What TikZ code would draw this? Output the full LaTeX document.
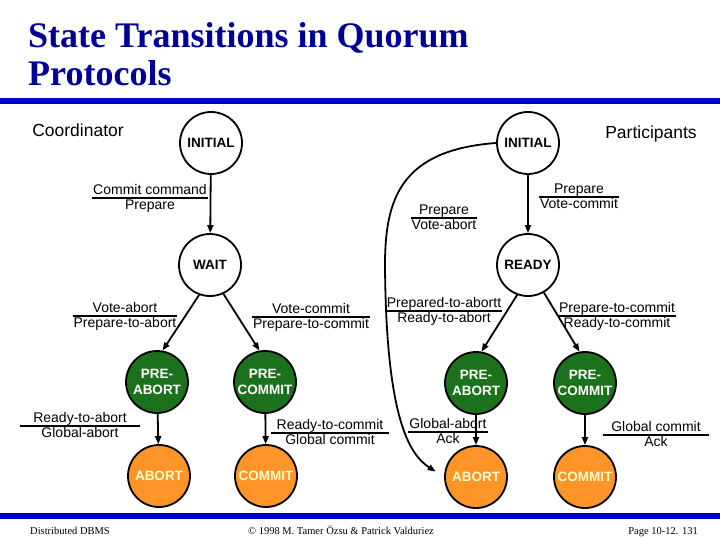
\documentclass[tikz,border=0pt]{standalone}
\usepackage{fontspec}
\setmainfont{Liberation Sans}
\newfontfamily\titlefont{Liberation Serif}
\usetikzlibrary{arrows.meta}
\definecolor{titleblue}{HTML}{000099}
\definecolor{rulepop}{HTML}{0000CC}
\definecolor{greenpop}{HTML}{1C721C}
\definecolor{orangepop}{HTML}{FF9429}
\definecolor{creampop}{HTML}{FFFFCC}
\setlength{\arrayrulewidth}{1.5pt}
\newcommand{\trans}[3][1pt]{\begin{tabular}{@{\hspace{#1}}c@{\hspace{#1}}}#2\\[-2pt]\hline #3\end{tabular}}

\begin{document}
\begin{tikzpicture}[x=1pt,y=-1pt,
  state/.style={circle, draw, line width=1.8pt, minimum size=62pt, inner sep=0pt, align=center, font=\fontsize{13.5}{16}\selectfont\bfseries},
  pre/.style={state, fill=greenpop, text=white},
  final/.style={state, fill=orangepop, text=creampop},
  lbl/.style={font=\fontsize{14}{16}\selectfont, inner sep=0pt},
  head/.style={font=\fontsize{17.5}{20}\selectfont, inner sep=0pt},
  titletext/.style={font=\titlefont\fontsize{36}{38}\selectfont\bfseries, text=titleblue, anchor=base west, inner sep=0pt},
  foot/.style={font=\titlefont\fontsize{10.5}{13}\selectfont, inner sep=0pt},
  arr/.style={line width=1.8pt, -{Triangle[length=8pt,width=6pt]}}]
\useasboundingbox (0,0) rectangle (720,540);
\fill[rulepop] (0,98) rectangle (720,104);
\fill[rulepop] (0,513) rectangle (720,519);
\node[titletext] (title) at (28,48) {State Transitions in Quorum};
\node[titletext] (title2) at (28,86) {Protocols};
\node[head] (coord) at (78,130) {Coordinator};
\node[head] (part) at (651,134) {Participants};

\node[state] (ci) at (211,143) {INITIAL};
\node[state] (cw) at (210,265) {WAIT};
\node[pre] (cpa) at (157,382) {PRE-\\ABORT};
\node[pre] (cpc) at (265,382) {PRE-\\COMMIT};
\node[final] (ca) at (159,476) {ABORT};
\node[final] (cc) at (266,476) {COMMIT};
\node[state] (pi) at (528,143) {INITIAL};
\node[state] (pr) at (528,265) {READY};
\node[pre] (ppa) at (476,383) {PRE-\\ABORT};
\node[pre] (ppc) at (585,383) {PRE-\\COMMIT};
\node[final] (pa) at (476,477) {ABORT};
\node[final] (pc) at (585,477) {COMMIT};

\draw[arr] (ci) -- (cw);
\draw[arr] (cw.250) -- (cpa.80);
\draw[arr] (cw.295) -- (cpc.100);
\draw[arr] (cpa) -- (ca);
\draw[arr] (cpc) -- (cc);
\draw[arr] (pi) -- (pr);
\draw[arr] (pr.250) -- (ppa.80);
\draw[arr] (pr.300) -- (ppc.100);
\draw[arr] (ppa) -- (pa);
\draw[arr] (ppc) -- (pc);
\draw[arr, shorten >=10pt] (pi.west) .. controls (400,150) and (385,200) .. (385,265)
  .. controls (386,420) and (410,455) .. (pa.west);

\foreach \n/\x/\y/\e/\a/\b in {1/150/199/1/Commit command/Prepare,
  2/579/198/1/Prepare/Vote-commit,
  3/444/219/1/Prepare/Vote-abort,
  4/125/317/1/Vote-abort/Prepare-to-abort,
  5/311/318/1/Vote-commit/Prepare-to-commit,
  6/80/427/13/Ready-to-abort/Global-abort,
  7/330/434/6/Ready-to-commit/Global commit,
  8/444/312/1/Prepared-to-abortt/Ready-to-abort,
  9/617/317/1/Prepare-to-commit/Ready-to-commit,
  10/448/433/1/Global-abort/Ack,
  11/656/436/8/Global commit/Ack}
  \node[lbl] (t\n) at (\x,\y) {\trans[\e pt]{\a}{\b}};

\node[foot, anchor=base west] (foot1) at (30,534) {Distributed DBMS};
\node[foot, anchor=base] (foot2) at (341,534) {© 1998 M. Tamer Özsu \& Patrick Valduriez};
\node[foot, anchor=base east] (foot3) at (698,534) {Page 10-12. 131};
\end{tikzpicture}
\end{document}
